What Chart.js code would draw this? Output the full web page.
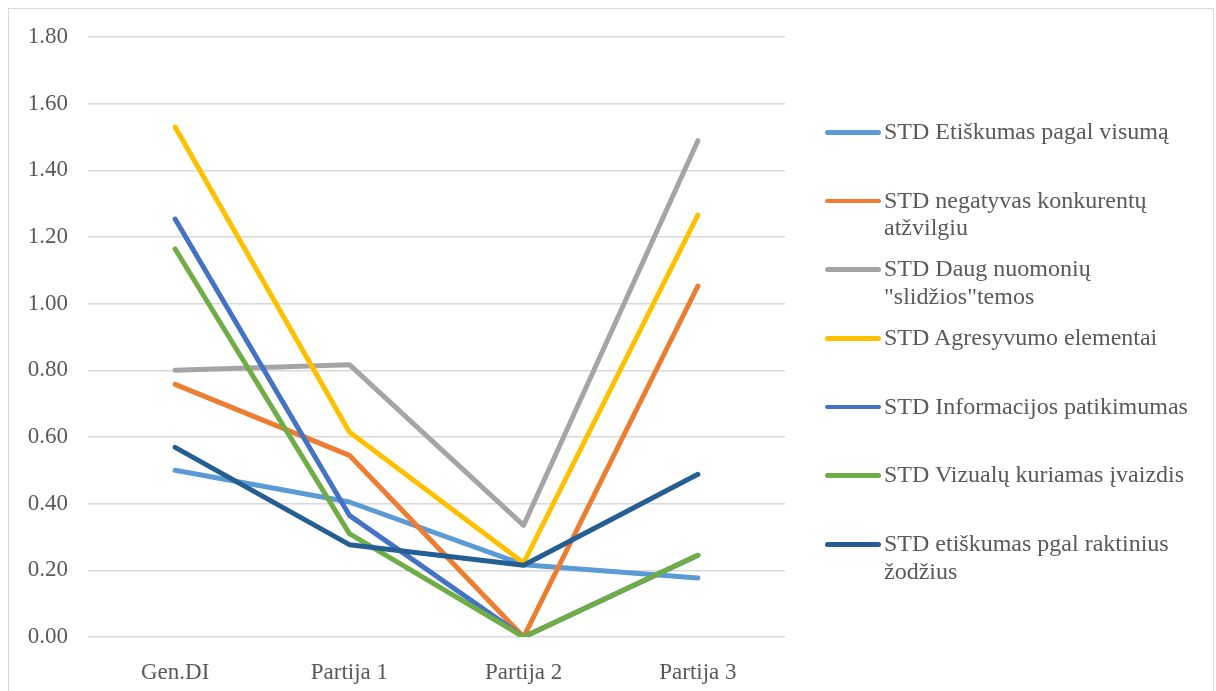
<!DOCTYPE html>
<html>
<head>
<meta charset="utf-8">
<script src="https://cdn.jsdelivr.net/npm/chart.js@4"></script>
<style>
    body { margin: 0; background: #fff; overflow: hidden; }
    #frame { position: absolute; left: 8px; top: 8px; width: 1204px; height: 700px; border: 1px solid #d9d9d9; }
    #chart { position: absolute; left: 0; top: 0; }
    #legend { position: absolute; left: 825px; top: 118px; font-family: "Liberation Serif", "Times New Roman", serif; color: #595959; }
    .item { display: flex; height: 68.7px; }
    .swatch { width: 56px; height: 4.5px; border-radius: 3px; margin-top: 12px; margin-right: 3px; }
    .label { width: 312px; font-size: 24px; line-height: 27.7px; }
</style>
</head>
<body>
<div id="frame"></div>
<canvas id="chart" width="1216" height="691"></canvas>
<div id="legend"></div>
<script>
const categories = ['Gen.DI', 'Partija 1', 'Partija 2', 'Partija 3'];
const seriesNames = [
    'STD Etiškumas pagal visumą',
    'STD negatyvas konkurentų atžvilgiu',
    'STD Daug nuomonių "slidžios"temos',
    'STD Agresyvumo elementai',
    'STD Informacijos patikimumas',
    'STD Vizualų kuriamas įvaizdis',
    'STD etiškumas pgal raktinius žodžius'
];
const seriesColors = ['#5B9BD5', '#ED7D31', '#A5A5A5', '#FFC000', '#4472C4', '#70AD47', '#255E91'];

const etiskumasVisuma = [0.50, 0.405, 0.217, 0.177];
const negatyvas = [0.758, 0.545, 0.0, 1.053];
const daugNuomoniu = [0.80, 0.817, 0.335, 1.489];
const agresyvumas = [1.53, 0.615, 0.222, 1.266];
const informacija = [1.254, 0.365, 0.0, 0.245];
const vizualai = [1.164, 0.31, 0.0, 0.245];
const etiskumasRaktiniai = [0.569, 0.277, 0.215, 0.488];

const seriesValues = [etiskumasVisuma, negatyvas, daugNuomoniu, agresyvumas, informacija, vizualai, etiskumasRaktiniai];

const yTicksMax = 1.8;
const yTicksStep = 0.2;

const tickFont = { family: '"Liberation Serif", "Times New Roman", serif', size: 23 };
const textColor = '#595959';

const datasets = seriesValues.map((values, i) => ({
    label: seriesNames[i],
    data: values,
    borderColor: seriesColors[i],
    backgroundColor: seriesColors[i],
    borderWidth: 5,
    borderCapStyle: 'round',
    borderJoinStyle: 'round',
    pointRadius: 0,
    tension: 0,
    fill: false,
    order: seriesValues.length - i // later series drawn on top, like Excel
}));

const ctx = document.getElementById('chart').getContext('2d');
const chart = new Chart(ctx, {
    type: 'line',
    data: { labels: categories, datasets: datasets },
    options: {
        responsive: false,
        animation: false,
        layout: { padding: { top: 37, right: 431, bottom: 0, left: 0 } },
        plugins: {
            legend: { display: false },
            tooltip: { enabled: false }
        },
        scales: {
            x: {
                offset: true,
                grid: { display: false },
                border: { display: false },
                ticks: { font: tickFont, color: textColor, padding: 14 },
                afterFit: (scale) => { scale.height = 54; }
            },
            y: {
                min: 0,
                max: yTicksMax,
                ticks: {
                    stepSize: yTicksStep,
                    font: tickFont,
                    color: textColor,
                    padding: 20,
                    callback: (v) => v.toFixed(2)
                },
                grid: { color: '#d9d9d9', lineWidth: 1.5, drawTicks: false },
                border: { display: false },
                afterFit: (scale) => { scale.width = 88; }
            }
        }
    }
});

// legend as html so long names can wrap like the original
const legend = document.getElementById('legend');
seriesNames.forEach((name, i) => {
    const item = document.createElement('div');
    item.className = 'item';
    const swatch = document.createElement('div');
    swatch.className = 'swatch';
    swatch.style.background = seriesColors[i];
    const label = document.createElement('div');
    label.className = 'label';
    label.textContent = name;
    item.appendChild(swatch);
    item.appendChild(label);
    legend.appendChild(item);
});
</script>
</body>
</html>
